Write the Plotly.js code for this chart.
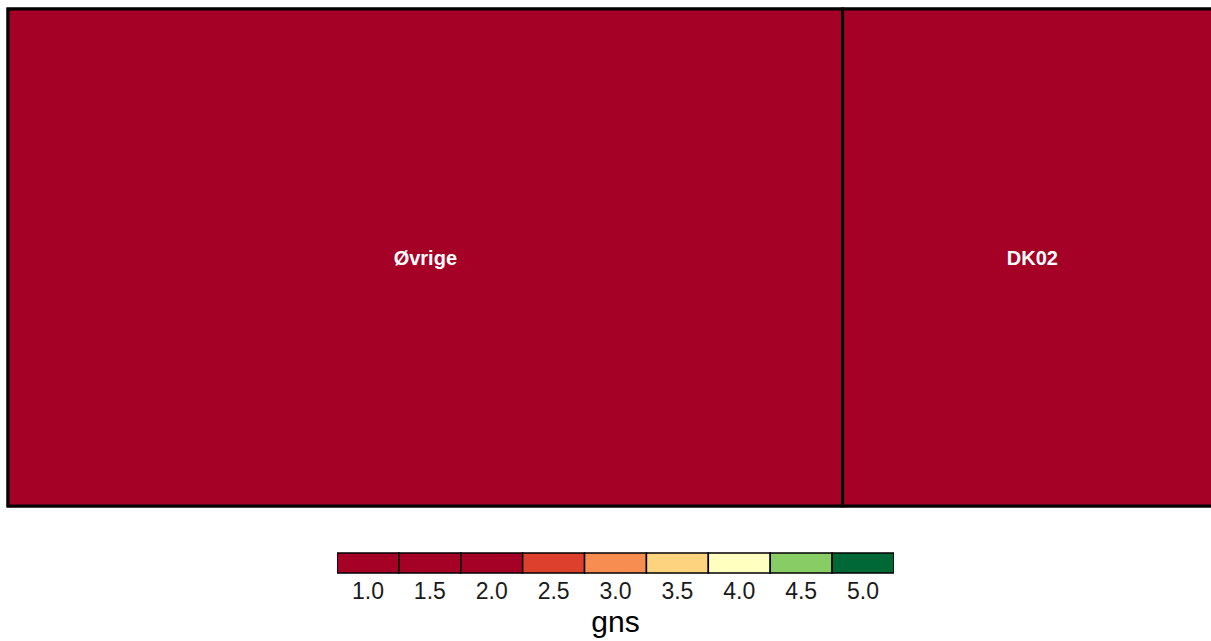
<!DOCTYPE html>
<html>
<head>
<meta charset="utf-8">
<script src="https://cdn.plot.ly/plotly-3.0.1.min.js"></script>
<style>
html,body{margin:0;padding:0;overflow:hidden;background:#fff;width:1211px;height:641px;}
#chart{width:1232px;height:641px;}
</style>
</head>
<body>
<div id="chart"></div>
<script>
// Data
const categories = ["Øvrige", "DK02"];
const counts = [22, 10];
const gns = [1.0, 1.0];

// Legend bins
const legendLabels = ["1.0","1.5","2.0","2.5","3.0","3.5","4.0","4.5","5.0"];
const legendColors = ["#A50026","#A50026","#A50026","#DE402E","#F88D52","#FED380","#FFFFC0","#88CC66","#006837"];

// stepped colorscale over 0.75..5.25
const n = legendColors.length;
const colorscale = [];
legendColors.forEach((c, i) => {
  colorscale.push([i / n, c]);
  colorscale.push([(i + 1) / n, c]);
});

const treemap = {
  type: "treemap",
  labels: categories,
  parents: categories.map(() => ""),
  values: counts,
  textinfo: "label",
  textposition: "middle center",
  textfont: {family: "Liberation Sans, Arial, sans-serif", size: 20, color: "#ffffff", weight: "bold"},
  marker: {
    colors: gns,
    colorscale: colorscale,
    cmin: 0.75, cmax: 5.25,
    showscale: false,
    line: {color: "#000000", width: 3},
    pad: {t: 0, l: 0, r: 0, b: 0}
  },
  tiling: {pad: 0},
  pathbar: {visible: false},
  hoverinfo: "skip",
  domain: {x: [0, 1], y: [1 - 506/641, 1 - 9/641]},
  sort: true
};

const legendBar = {
  type: "bar",
  x: legendLabels,
  y: legendLabels.map(() => 1),
  marker: {color: legendColors, line: {color: "#000000", width: 1.5}},
  xaxis: "x2",
  yaxis: "y2",
  hoverinfo: "skip",
  showlegend: false
};

const layout = {
  width: 1232,
  height: 641,
  margin: {l: 8, r: 10, t: 0, b: 0},
  paper_bgcolor: "#ffffff",
  plot_bgcolor: "rgba(0,0,0,0)",
  showlegend: false,
  bargap: 0,
  xaxis2: {
    domain: [(337 - 8) / 1214, (894 - 8) / 1214],
    anchor: "y2",
    type: "category",
    showgrid: false, zeroline: false, showline: false,
    ticks: "", ticklabelstandoff: 1,
    tickfont: {family: "Liberation Sans, Arial, sans-serif", size: 23, color: "#1a1a1a"},
    title: {text: "gns", font: {family: "Liberation Sans, Arial, sans-serif", size: 30, color: "#000000"}, standoff: 7},
    automargin: false,
    fixedrange: true
  },
  yaxis2: {
    domain: [1 - 574/641, 1 - 552/641],
    anchor: "x2",
    range: [-0.05, 1.05],
    visible: false,
    fixedrange: true
  }
};

Plotly.newPlot("chart", [treemap, legendBar], layout, {displayModeBar: false, staticPlot: true});
</script>
</body>
</html>
